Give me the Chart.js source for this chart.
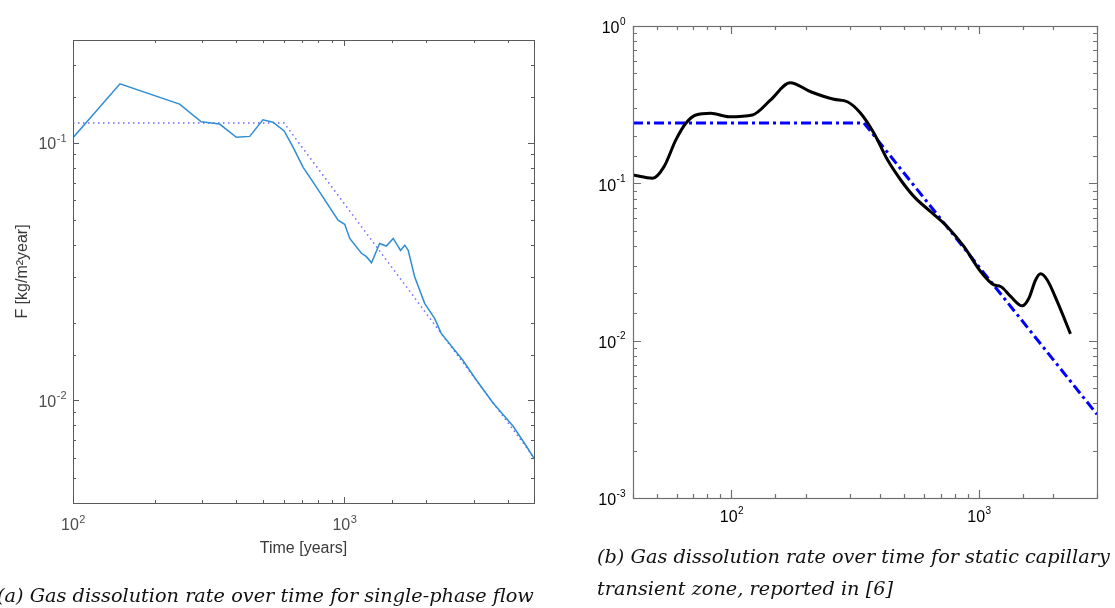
<!DOCTYPE html>
<html>
<head>
<meta charset="utf-8">
<script src="https://cdn.jsdelivr.net/npm/chart.js@4.4.1/dist/chart.umd.min.js"></script>
<style>
  body { margin: 0; background: #fff; width: 1115px; height: 608px; position: relative; overflow: hidden; }
  canvas { position: absolute; top: 0; }
  #chartA { left: 0; }
  #chartB { left: 560px; }
  .cap { position: absolute; font-family: "DejaVu Serif", serif; font-style: italic; font-size: 19.3px; color: #111; white-space: nowrap; line-height: 32px; }
  #capA { left: -3px; top: 580px; }
  #capB { left: 597px; top: 541px; }
</style>
</head>
<body>
<canvas id="chartA" width="560" height="608"></canvas>
<canvas id="chartB" width="555" height="608"></canvas>
<div class="cap" id="capA">(a) Gas dissolution rate over time for single-phase flow</div>
<div class="cap" id="capB">(b) Gas dissolution rate over time for static capillary<br>transient zone, reported in [6]</div>
<script>
// (a) single-phase flow
var timeA = [100, 149, 247, 297, 347, 400, 448, 501, 546, 600, 647, 705, 789, 948, 1003, 1047, 1156, 1206, 1259, 1349, 1428, 1514, 1611, 1671, 1719, 1816, 1977, 2151, 2275, 2729, 3065, 3532, 4189, 4690, 5000];
var fluxA = [0.1045, 0.169, 0.141, 0.1205, 0.118, 0.1048, 0.1057, 0.1225, 0.120, 0.111, 0.096, 0.0802, 0.0672, 0.050, 0.0482, 0.0425, 0.0372, 0.0361, 0.0342, 0.0406, 0.0397, 0.0425, 0.0382, 0.040, 0.0382, 0.0302, 0.0238, 0.0208, 0.0182, 0.01435, 0.0120, 0.00977, 0.00794, 0.00664, 0.00596];
var fitTimeA = [100, 600, 5000];
var fitA = [0.119, 0.119, 0.0060];

// (b) static capillary transient zone
var timeB = [40, 48, 53.4, 59.6, 65.4, 71.8, 82.5, 97.8, 121.6, 144, 172.5, 209, 259.5, 294, 332.6, 376.6, 427, 483, 546.5, 638, 745, 869, 1016, 1150, 1224, 1343, 1496, 1592, 1694, 1775, 1888, 2073, 2344];
var fluxB = [0.113, 0.1077, 0.1277, 0.1888, 0.241, 0.272, 0.279, 0.265, 0.272, 0.339, 0.436, 0.382, 0.342, 0.330, 0.279, 0.208, 0.141, 0.105, 0.0823, 0.066, 0.053, 0.0397, 0.0275, 0.0226, 0.0221, 0.0191, 0.01664, 0.0186, 0.0243, 0.0266, 0.0243, 0.0177, 0.01105];
var fitTimeB = [40, 343, 3000];
var fitB = [0.242, 0.242, 0.0034];

function pts(xs, ys) { return xs.map(function(x, i) { return {x: x, y: ys[i]}; }); }

function expOf(v) {
  var e = Math.log10(v);
  return Math.abs(e - Math.round(e)) < 1e-6 ? Math.round(e) : null;
}

// box, inward ticks on all four sides and 10^n labels, matlab style
var frameTicks = {
  id: 'frameTicks',
  afterDraw: function(chart, args, o) {
    var ctx = chart.ctx, a = chart.chartArea;
    var sx = chart.scales.x, sy = chart.scales.y;
    ctx.save();
    ctx.strokeStyle = o.color;
    ctx.lineWidth = o.width;
    ctx.beginPath();
    sx.ticks.forEach(function(t) {
      var px = Math.round(sx.getPixelForValue(t.value)) + 0.5;
      var len = expOf(t.value) !== null ? o.major : o.minor;
      ctx.moveTo(px, a.bottom); ctx.lineTo(px, a.bottom - len);
      ctx.moveTo(px, a.top); ctx.lineTo(px, a.top + len);
    });
    sy.ticks.forEach(function(t) {
      var py = Math.round(sy.getPixelForValue(t.value)) + 0.5;
      var len = expOf(t.value) !== null ? o.major : o.minor;
      ctx.moveTo(a.left, py); ctx.lineTo(a.left + len, py);
      ctx.moveTo(a.right, py); ctx.lineTo(a.right - len, py);
    });
    ctx.stroke();
    ctx.strokeRect(Math.round(a.left) + 0.5, Math.round(a.top) + 0.5, Math.round(a.right - a.left), Math.round(a.bottom - a.top));

    // labels
    var base = o.size + 'px "Liberation Sans", Arial, sans-serif';
    var small = o.supSize + 'px "Liberation Sans", Arial, sans-serif';
    ctx.fillStyle = o.labelColor;
    ctx.textBaseline = 'middle';
    function label(e, cx, cy, align) {
      ctx.font = base;
      var w1 = ctx.measureText('10').width;
      ctx.font = small;
      var w2 = ctx.measureText(String(e)).width;
      var x0 = align === 'right' ? cx - w1 - w2 : cx - (w1 + w2) / 2;
      ctx.textAlign = 'left';
      ctx.font = base;
      ctx.fillText('10', x0, cy);
      ctx.font = small;
      ctx.fillText(String(e), x0 + w1 + 0.5, cy - o.raise);
    }
    sx.ticks.forEach(function(t) {
      var e = expOf(t.value);
      if (e !== null) label(e, sx.getPixelForValue(t.value), a.bottom + o.xPad, 'center');
    });
    sy.ticks.forEach(function(t) {
      var e = expOf(t.value);
      if (e !== null) label(e, a.left - o.yPad, sy.getPixelForValue(t.value) + o.yShift, 'right');
    });
    ctx.restore();
  }
};

new Chart(document.getElementById('chartA'), {
  type: 'line',
  data: {
    datasets: [{
      data: pts(timeA, fluxA),
      borderColor: '#2f8dd2',
      borderWidth: 1.5,
      pointRadius: 0,
      tension: 0
    }, {
      data: pts(fitTimeA, fitA),
      borderColor: '#6a6aff',
      borderWidth: 1.5,
      borderDash: [1.5, 3.5],
      pointRadius: 0
    }]
  },
  options: {
    responsive: false,
    animation: false,
    devicePixelRatio: 1,
    layout: { padding: { left: 9, top: 40, right: 26, bottom: 46 } },
    plugins: {
      legend: { display: false },
      tooltip: { enabled: false },
      frameTicks: { color: '#5a5a5a', width: 1, major: 6, minor: 3, labelColor: '#4d4d4d', size: 16, supSize: 11, raise: 6, xPad: 23, yPad: 7, yShift: 2 }
    },
    scales: {
      x: {
        type: 'logarithmic', min: 100, max: 5000,
        grid: { display: false }, border: { display: false },
        afterFit: function(s) { s.height = 59; },
        ticks: { display: false, autoSkip: false },
        title: { display: true, text: 'Time [years]', color: '#3a3a3a', font: { family: 'Liberation Sans', size: 16 } }
      },
      y: {
        type: 'logarithmic', min: 0.004, max: 0.25,
        grid: { display: false }, border: { display: false },
        afterFit: function(s) { s.width = 64; },
        ticks: { display: false, autoSkip: false },
        title: { display: true, text: 'F [kg/m\u00B2year]', color: '#3a3a3a', font: { family: 'Liberation Sans', size: 16 } }
      }
    }
  },
  plugins: [frameTicks]
});

new Chart(document.getElementById('chartB'), {
  type: 'line',
  data: {
    datasets: [{
      data: pts(timeB, fluxB),
      borderColor: '#000',
      borderWidth: 3,
      pointRadius: 0,
      cubicInterpolationMode: 'monotone'
    }, {
      data: pts(fitTimeB, fitB),
      borderColor: '#0000ff',
      borderWidth: 3,
      borderDash: [10, 4, 3, 4],
      pointRadius: 0
    }]
  },
  options: {
    responsive: false,
    animation: false,
    devicePixelRatio: 1,
    layout: { padding: { left: 0, top: 26, right: 18, bottom: 0 } },
    plugins: {
      legend: { display: false },
      tooltip: { enabled: false },
      frameTicks: { color: '#707070', width: 1.2, major: 8, minor: 4, labelColor: '#000', size: 16, supSize: 10, raise: 7, xPad: 20, yPad: 8, yShift: 3 }
    },
    scales: {
      x: {
        type: 'logarithmic', min: 40, max: 3000,
        grid: { display: false }, border: { display: false },
        afterFit: function(s) { s.height = 110; },
        ticks: { display: false, autoSkip: false }
      },
      y: {
        type: 'logarithmic', min: 0.001, max: 1,
        grid: { display: false }, border: { display: false },
        afterFit: function(s) { s.width = 73; },
        ticks: { display: false, autoSkip: false }
      }
    }
  },
  plugins: [frameTicks]
});
</script>
</body>
</html>
